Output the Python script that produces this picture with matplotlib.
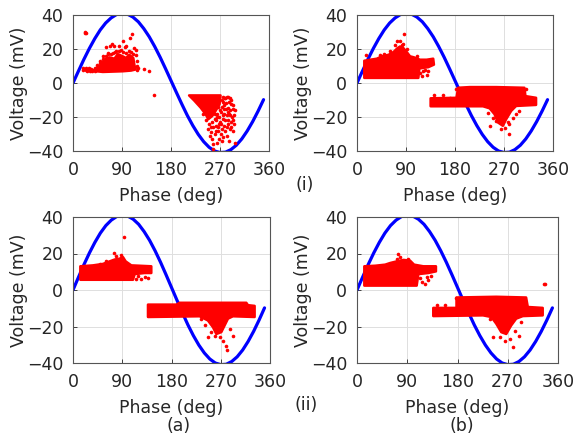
import matplotlib
matplotlib.use("Agg")
import matplotlib.pyplot as plt

# ---------------------------------------------------------------------------
# Data
# ---------------------------------------------------------------------------

# applied voltage reference (blue curve), phase in deg, voltage in mV
sine_phase = [0, 10, 20, 30, 40, 50, 60, 70, 80, 90, 100, 110, 120, 130, 140,
              150, 160, 170, 180, 190, 200, 210, 220, 230, 240, 250, 260, 270,
              280, 290, 300, 310, 320, 330, 340, 350]
sine_volt = [0.0, 7.0, 13.9, 20.3, 26.1, 31.2, 35.3, 38.3, 40.3, 41.0, 40.5,
             38.8, 36.0, 32.0, 27.2, 21.5, 15.2, 8.4, 1.4, -5.6, -12.5, -19.1,
             -25.0, -30.2, -34.5, -37.8, -40.0, -40.9, -40.7, -39.2, -36.6,
             -32.9, -28.2, -22.7, -16.5, -9.8]

# ---- (a)(i) ----
ai_pos_hull_ph = [42.6, 43.8, 51.8, 57.9, 67.0, 76.1, 82.2, 91.4, 97.4, 103.5,
                  110.8, 112.7, 114.5, 106.6, 91.4, 54.8]
ai_pos_hull_v = [6.9, 8.9, 10.8, 13.7, 15.1, 14.3, 17.0, 15.7, 14.7, 16.6,
                 14.7, 10.8, 7.9, 7.3, 6.9, 6.5]
ai_neg_hull_ph = [213.2, 271.0, 269.2, 261.9, 255.8, 248.5, 243.6, 234.5, 222.3]
ai_neg_hull_v = [-7.3, -7.3, -12.5, -16.4, -19.4, -21.3, -18.4, -14.5, -10.2]
ai_dots_ph = [21.5, 22.5, 23.5, 23.1, 24.4, 27.4, 30.5, 33.5, 36.5, 39.6, 41.4,
              29.2, 35.3, 60.9, 71.9, 68.2, 76.1, 91.4, 108.4, 104.7, 97.4,
              88.3, 111.4, 115.7, 106.6, 79.2, 64.0, 54.8, 48.7, 115.7, 117.0,
              114.5, 130.9, 138.9, 148.0, 100.5, 73.0,
              50, 55, 60, 65, 70, 78, 85, 92, 98, 103, 110, 95, 85, 117, 118,
              120, 44, 40, 32, 26, 19, 18,
              275, 279, 283, 288, 276, 281, 286, 291, 274, 278, 284, 289, 293,
              272, 277, 282, 287, 292, 296, 275, 280, 285, 290, 295, 270, 278,
              283, 288, 293, 273, 245, 250, 255, 260, 265, 248, 253, 258, 263,
              268, 251, 256, 261, 266, 271, 258, 264, 276, 282, 286, 257, 297,
              239, 242, 260,
              258, 262, 266, 270, 264, 268, 273, 277, 281, 285, 289, 294, 280,
              285, 290, 294, 297, 263, 267, 272, 276, 279, 284, 274, 262, 252,
              247, 254, 269, 291]
ai_dots_v = [29.5, 29.9, 29.4, 8.9, 7.5, 8.3, 7.5, 8.5, 7.5, 8.9, 7.5, 8.9, 7.3,
             21.1, 22.9, 21.5, 21.5, 24.8, 28.9, 26.4, 21.5, 19.6, 20.5, 19.6,
             18.2, 19.0, 17.0, 15.7, 12.8, 16.6, 12.8, 9.3, 8.3, 7.3, -7.3,
             12.8, 17.6,
             12, 14, 16, 17.5, 17, 18, 19, 18, 17.5, 19, 17, 21, 22, 10, 7.5,
             9, 10.5, 7, 7, 7.2, 7.8, 9,
             -8, -9, -8.5, -9, -11, -12, -11, -12.5, -14, -15, -14.5, -16, -15,
             -17, -18, -19, -18.5, -20, -19, -21, -22, -21.5, -23, -24, -23,
             -25, -26, -27, -28, -27, -22, -24, -23, -21, -20, -27, -29, -26,
             -25, -24, -31, -33, -30, -28, -30, -36, -35, -32, -31, -34, -39,
             -35.5, -18, -15, -18.5,
             -10, -12, -14, -16, -18, -20, -10, -13, -15, -17, -19, -22, -9,
             -8, -10, -13, -16, -22, -26, -24, -19, -28, -24, -34, -28, -19,
             -17, -26, -33, -26]

# ---- (b)(i) ----
bi_pos_hull_ph = [13.4, 13.4, 24.4, 36.5, 45.7, 57.9, 67.0, 74.3, 79.2, 85.3,
                  91.4, 97.4, 104.7, 115.7, 127.9, 140.0, 141.3, 130.9, 121.8,
                  114.5, 112.7]
bi_pos_hull_v = [3.0, 13.1, 13.7, 14.3, 15.7, 16.6, 18.2, 20.5, 21.5, 20.5,
                 18.2, 15.7, 15.1, 13.7, 13.7, 14.3, 10.8, 9.3, 8.9, 8.5, 3.0]
bi_neg_hull_ph = [135.2, 182.7, 185.7, 207.0, 255.8, 307.5, 309.4, 328.9,
                  328.9, 292.3, 283.2, 274.0, 268.0, 258.8, 252.7, 243.6,
                  231.4, 135.2]
bi_neg_hull_v = [-9.0, -8.7, -2.8, -2.4, -2.4, -2.8, -7.7, -8.7, -12.9, -13.5,
                 -16.4, -21.3, -25.2, -23.2, -18.4, -14.9, -13.7, -13.7]
bi_dots_ph = [17.0, 73.1, 79.2, 87.1, 82.2, 60.9, 48.7, 91.4, 109.6, 121.8,
              127.9, 118.8, 130.9, 115.7, 124.8, 42.6, 70.0, 84.0,
              141.9, 158.3, 243.6, 278.3, 255.8, 271.0, 265.0, 280.0, 286.0,
              249.7, 240.6, 292.3, 298.4, 310.6, 182.7, 195.0, 170.5, 277.0]
bi_dots_v = [16.6, 24.8, 24.8, 28.9, 22.5, 19.0, 17.0, 20.2, 15.7, 6.9, 5.0,
             4.0, 6.9, 6.0, 7.9, 16.3, 22.5, 22.9,
             -6.9, -6.9, -25.2, -30.0, -22.3, -26.2, -27.1, -24.2, -20.3,
             -20.3, -17.4, -18.4, -16.4, -3.8, -3.8, -6.7, -8.7, -23.2]

# ---- (a)(ii) ----
aii_pos_hull_ph = [13.4, 13.4, 36.5, 54.8, 67.0, 76.1, 85.3, 91.4, 96.2, 106.6,
                   121.8, 143.1, 143.1, 130.9, 112.7, 109.6]
aii_pos_hull_v = [5.6, 13.0, 13.5, 14.3, 15.7, 16.7, 17.2, 18.0, 15.7, 13.5,
                  13.3, 13.0, 9.3, 9.3, 8.7, 5.6]
aii_neg_hull_ph = [137.0, 188.8, 194.9, 316.7, 319.7, 331.9, 331.9, 292.3,
                   283.2, 277.1, 271.0, 261.9, 255.8, 246.6, 231.4, 137.0]
aii_neg_hull_v = [-8.0, -8.0, -7.0, -7.0, -8.3, -8.7, -14.8, -14.4, -15.7,
                  -19.4, -23.1, -24.1, -20.4, -16.7, -14.4, -14.8]
aii_dots_ph = [92.6, 74.3, 78.0, 88.3, 118.8, 124.8, 137.0, 130.9, 115.7, 60.9,
               48.7, 246.6, 292.3, 278.9, 281.4, 268.0, 258.8, 252.7, 240.6,
               234.5, 286.2, 274.0, 143.1, 155.3, 325.8]
aii_dots_v = [29.1, 20.4, 18.5, 19.0, 7.4, 5.9, 6.5, 6.9, 6.1, 15.7, 14.3,
              -25.9, -25.4, -30.6, -32.8, -25.9, -25.0, -23.1, -19.4, -15.7,
              -21.3, -27.8, -8.7, -8.7, -9.8]

# ---- (b)(ii) ----
bii_pos_hull_ph = [13.1, 13.1, 32.7, 50.5, 59.4, 71.3, 83.2, 95.0, 102.2,
                   118.8, 141.4, 141.4, 127.7, 109.9, 106.9]
bii_pos_hull_v = [2.4, 13.0, 13.3, 13.9, 14.8, 15.7, 16.5, 16.1, 13.9, 13.0,
                  13.0, 10.2, 9.3, 8.7, 2.4]
bii_neg_hull_ph = [136.6, 178.2, 178.2, 249.5, 302.9, 305.9, 332.6, 332.6,
                   297.0, 285.1, 276.2, 267.3, 258.4, 249.5, 240.6, 225.7, 136.6]
bii_neg_hull_v = [-9.8, -9.8, -4.1, -3.7, -4.1, -9.3, -9.8, -13.9, -14.3,
                  -15.7, -19.4, -24.1, -23.1, -18.5, -14.8, -13.9, -14.3]
bii_dots_ph = [74.3, 77.2, 71.3, 115.8, 121.8, 127.7, 124.7, 112.9, 131.9, 92.0,
               142.6, 157.4, 335.0, 336.2, 279.2, 243.5, 291.0, 273.2, 264.3,
               255.4, 282.2, 294.0, 237.6, 178.2, 190.0]
bii_dots_v = [20.0, 18.0, 17.2, 4.6, 3.3, 5.6, 6.9, 6.5, 7.4, 17.2,
              -8.0, -8.0, 3.1, 3.1, -31.1, -25.9, -25.4, -26.9, -27.8,
              -25.9, -22.2, -17.6, -15.7, -4.6, -5.6]

# ---------------------------------------------------------------------------
# Style
# ---------------------------------------------------------------------------
C_SINE = (0.0, 0.0, 1.0)
C_PD = (1.0, 0.0, 0.0)
C_TEXT = "#262626"
W, H = 577, 441


def px_box(x0, y0, x1, y1):
    """Axes box from pixel corners (top-left origin) to figure fractions."""
    return [x0 / W, 1 - y1 / H, (x1 - x0) / W, (y1 - y0) / H]


def prpd_panel(ax, pos_ph, pos_v, neg_ph, neg_v, dots_ph, dots_v):
    ax.plot(sine_phase, sine_volt, color=C_SINE, lw=2.3, zorder=2,
            solid_capstyle="round")
    # dense clouds: outline filled, thick edge gives the dotted fringe width
    ax.fill(pos_ph, pos_v, color=C_PD, lw=1.8, ec=C_PD, joinstyle="round",
            zorder=3)
    ax.fill(neg_ph, neg_v, color=C_PD, lw=1.8, ec=C_PD, joinstyle="round",
            zorder=3)
    ax.plot(dots_ph, dots_v, "o", color=C_PD, ms=2.6, mew=0, zorder=4)

    ax.set_xlim(0, 360)
    ax.set_ylim(-40, 40)
    ax.set_xticks([0, 90, 180, 270, 360])
    ax.set_yticks([-40, -20, 0, 20, 40])
    ax.grid(True, color="#dedede", lw=0.7)
    ax.set_axisbelow(True)
    ax.tick_params(direction="in", length=3, width=0.6, colors=C_TEXT,
                   labelsize=12.5, pad=7, top=False, right=False)
    for sp in ax.spines.values():
        sp.set_color("#555555")
        sp.set_linewidth(0.8)
    ax.set_xlabel("Phase (deg)", fontsize=12.5, color=C_TEXT, labelpad=6)
    ax.set_ylabel("Voltage (mV)", fontsize=12.5, color=C_TEXT, labelpad=-1)


fig = plt.figure(figsize=(W / 100, H / 100), dpi=100)

ax_ai = fig.add_axes(px_box(73, 15, 269, 151))
ax_bi = fig.add_axes(px_box(357, 15, 553, 151))
ax_aii = fig.add_axes(px_box(73, 217, 270, 363))
ax_bii = fig.add_axes(px_box(357, 217, 558, 363))

prpd_panel(ax_ai, ai_pos_hull_ph, ai_pos_hull_v, ai_neg_hull_ph, ai_neg_hull_v,
           ai_dots_ph, ai_dots_v)
prpd_panel(ax_bi, bi_pos_hull_ph, bi_pos_hull_v, bi_neg_hull_ph, bi_neg_hull_v,
           bi_dots_ph, bi_dots_v)
prpd_panel(ax_aii, aii_pos_hull_ph, aii_pos_hull_v, aii_neg_hull_ph,
           aii_neg_hull_v, aii_dots_ph, aii_dots_v)
prpd_panel(ax_bii, bii_pos_hull_ph, bii_pos_hull_v, bii_neg_hull_ph,
           bii_neg_hull_v, bii_dots_ph, bii_dots_v)

# panel captions
for label, (x, y) in [("(i)", (305, 185)), ("(ii)", (306, 405)),
                      ("(a)", (179, 426)), ("(b)", (462, 426))]:
    fig.text(x / W, 1 - y / H, label, ha="center", va="center",
             fontsize=12.5, color=C_TEXT)

fig.savefig("out.png", dpi=100)
